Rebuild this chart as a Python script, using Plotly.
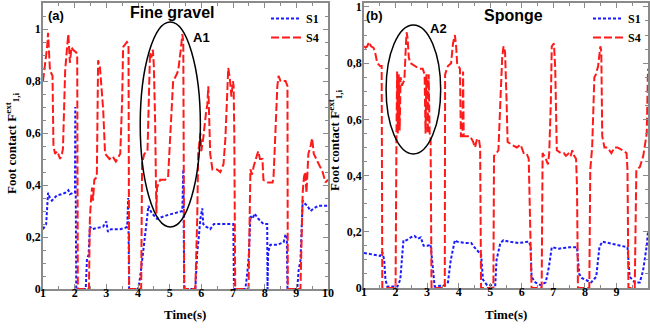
import plotly.graph_objects as go

# ---------------- data ----------------
# Panel (a): Fine gravel
t_a_s4 = [1.0, 1.07, 1.1, 1.13, 1.16, 1.19, 1.22, 1.3, 1.33, 1.38, 1.45, 1.54, 1.6, 1.63, 1.7, 1.76, 1.8, 1.85, 1.9, 1.95,
          2.05, 2.08, 2.1, 2.45, 2.48, 2.52, 2.55, 2.58, 2.62, 2.7, 2.74, 2.8, 2.9, 2.96, 3.1, 3.2, 3.3, 3.44, 3.5, 3.53,
          3.6, 3.65, 3.7, 3.72, 4.1, 4.13, 4.16, 4.2, 4.3, 4.35, 4.38, 4.42, 4.47, 4.5, 4.54, 4.58, 4.6, 4.7, 4.86, 4.95,
          5.02, 5.08, 5.11, 5.2, 5.27, 5.35, 5.4, 5.43, 5.46, 5.81, 5.87, 5.9, 5.97, 6.0, 6.06, 6.15, 6.19, 6.22, 6.28, 6.35,
          6.5, 6.6, 6.7, 6.76, 6.85, 6.9, 6.95, 7.0, 7.02, 7.04, 7.07, 7.49, 7.55, 7.6, 7.65, 7.77, 7.8, 7.85, 7.93, 7.96,
          8.1, 8.25, 8.28, 8.4, 8.44, 8.5, 8.56, 8.66, 8.72, 8.73, 9.13, 9.2, 9.24, 9.28, 9.32, 9.38, 9.45, 9.5, 9.55, 9.67,
          9.83, 9.92, 10.0]
f_a_s4 = [0.80, 0.87, 0.91, 0.93, 0.985, 0.90, 0.84, 0.82, 0.55, 0.52, 0.53, 0.50, 0.52, 0.54, 0.84, 0.93, 0.98, 0.87, 0.93, 0.92,
          0.91, 0.90, 0.0, 0.0, 0.27, 0.35, 0.39, 0.34, 0.42, 0.43, 0.88, 0.85, 0.69, 0.52, 0.50, 0.51, 0.49, 0.52, 0.73, 0.93,
          0.94, 0.95, 0.94, 0.0, 0.0, 0.50, 0.50, 0.52, 0.53, 0.85, 0.91, 0.89, 0.92, 0.86, 0.65, 0.29, 0.39, 0.42, 0.42, 0.43,
          0.58, 0.71, 0.80, 0.82, 0.84, 0.92, 0.98, 0.95, 0.0, 0.0, 0.27, 0.52, 0.60, 0.53, 0.58, 0.68, 0.71, 0.78, 0.52, 0.46,
          0.46, 0.45, 0.48, 0.58, 0.85, 0.81, 0.74, 0.80, 0.78, 0.60, 0.0, 0.0, 0.46, 0.44, 0.47, 0.52, 0.53, 0.50, 0.50, 0.42,
          0.41, 0.41, 0.43, 0.78, 0.82, 0.80, 0.80, 0.80, 0.78, 0.0, 0.0, 0.37, 0.43, 0.45, 0.37, 0.52, 0.55, 0.58, 0.52, 0.49,
          0.45, 0.41, 0.42]
t_a_s1 = [1.0, 1.1, 1.16, 1.22, 1.28, 1.44, 1.6, 1.7, 1.8, 1.85, 1.96, 2.01, 2.02, 2.05, 2.35, 2.39, 2.44, 2.48, 2.55, 2.7,
          2.9, 3.0, 3.05, 3.15, 3.28, 3.44, 3.6, 3.66, 3.69, 3.72, 4.0, 4.05, 4.16, 4.22, 4.33, 4.4, 4.45, 4.6, 4.8, 4.95,
          5.11, 5.3, 5.4, 5.43, 5.46, 5.81, 5.87, 5.92, 5.97, 6.03, 6.06, 6.15, 6.28, 6.4, 6.6, 6.8, 7.01, 7.03, 7.39, 7.45,
          7.5, 7.55, 7.62, 7.68, 7.8, 7.96, 8.08, 8.09, 8.11, 8.15, 8.18, 8.4, 8.6, 8.66, 8.7, 8.72, 9.03, 9.07, 9.13, 9.2,
          9.25, 9.35, 9.45, 9.55, 9.7, 9.86, 10.0]
f_a_s1 = [0.23, 0.25, 0.37, 0.35, 0.34, 0.36, 0.365, 0.37, 0.38, 0.365, 0.37, 0.37, 0.70, 0.0, 0.0, 0.12, 0.13, 0.24, 0.23, 0.235,
          0.24, 0.26, 0.22, 0.23, 0.23, 0.23, 0.235, 0.24, 0.35, 0.0, 0.0, 0.03, 0.14, 0.20, 0.32, 0.30, 0.29, 0.27, 0.28, 0.285,
          0.29, 0.295, 0.30, 0.46, 0.0, 0.0, 0.14, 0.20, 0.27, 0.31, 0.25, 0.24, 0.23, 0.25, 0.25, 0.25, 0.25, 0.0, 0.0, 0.06,
          0.13, 0.28, 0.27, 0.29, 0.27, 0.25, 0.25, 0.0, 0.14, 0.16, 0.17, 0.17, 0.18, 0.21, 0.20, 0.0, 0.0, 0.07, 0.11, 0.34,
          0.33, 0.32, 0.30, 0.31, 0.32, 0.32, 0.32]

# Panel (b): Sponge
t_b_s4 = [1.0, 1.05, 1.1, 1.16, 1.22, 1.3, 1.35, 1.42, 1.51, 1.56, 1.58, 2.0, 2.03, 2.05, 2.07, 2.1, 2.13, 2.16, 2.2, 2.28,
          2.33, 2.35, 2.38, 2.42, 2.47, 2.6, 2.75, 2.86, 2.92, 2.95, 2.98, 3.02, 3.05, 3.08, 3.11, 3.14, 3.56, 3.57, 3.66, 3.76,
          3.82, 3.88, 3.92, 3.95, 4.04, 4.07, 4.12, 4.14, 4.16, 4.2, 4.36, 4.46, 4.52, 4.58, 4.64, 4.68, 4.71, 5.1, 5.12, 5.2,
          5.26, 5.32, 5.38, 5.42, 5.47, 5.52, 5.55, 5.68, 5.84, 5.96, 6.06, 6.15, 6.22, 6.31, 6.63, 6.66, 6.76, 6.83, 6.87, 6.92,
          6.95, 7.02, 7.06, 7.11, 7.24, 7.33, 7.4, 7.5, 7.55, 7.6, 7.66, 7.72, 7.75, 7.77, 7.78, 8.14, 8.17, 8.23, 8.3, 8.35,
          8.42, 8.49, 8.52, 8.55, 8.62, 8.71, 8.84, 8.94, 9.03, 9.19, 9.32, 9.35, 9.38, 9.58, 9.63, 9.74, 9.85, 9.96, 10.0]
f_b_s4 = [0.86, 0.855, 0.86, 0.875, 0.86, 0.855, 0.84, 0.80, 0.79, 0.79, 0.0, 0.0, 0.56, 0.77, 0.55, 0.76, 0.56, 0.75, 0.72, 0.74,
          0.87, 0.91, 0.89, 0.82, 0.80, 0.79, 0.78, 0.78, 0.76, 0.55, 0.76, 0.55, 0.76, 0.55, 0.54, 0.0, 0.0, 0.76, 0.79, 0.80,
          0.87, 0.90, 0.86, 0.80, 0.78, 0.54, 0.54, 0.77, 0.54, 0.54, 0.54, 0.52, 0.50, 0.53, 0.53, 0.50, 0.0, 0.0, 0.47, 0.48,
          0.49, 0.66, 0.82, 0.86, 0.84, 0.66, 0.52, 0.51, 0.50, 0.51, 0.48, 0.48, 0.46, 0.0, 0.0, 0.48, 0.46, 0.44, 0.48, 0.66,
          0.86, 0.87, 0.78, 0.49, 0.48, 0.48, 0.47, 0.48, 0.47, 0.49, 0.47, 0.46, 0.36, 0.12, 0.0, 0.0, 0.42, 0.50, 0.75, 0.76,
          0.79, 0.86, 0.84, 0.54, 0.50, 0.50, 0.48, 0.50, 0.50, 0.49, 0.48, 0.42, 0.0, 0.0, 0.42, 0.43, 0.47, 0.55, 0.78]
t_b_s1 = [1.0, 1.32, 1.51, 1.58, 1.64, 1.68, 1.74, 2.06, 2.15, 2.25, 2.35, 2.48, 2.6, 2.7, 2.8, 2.89, 3.02, 3.11, 3.17, 3.24,
          3.56, 3.66, 3.75, 3.88, 3.95, 4.2, 4.4, 4.46, 4.62, 4.71, 4.77, 4.84, 4.9, 5.0, 5.16, 5.2, 5.32, 5.42, 5.58, 5.9,
          6.22, 6.28, 6.31, 6.43, 6.6, 6.76, 6.86, 6.95, 7.18, 7.5, 7.75, 7.82, 7.91, 8.0, 8.2, 8.36, 8.46, 8.55, 8.78, 9.0,
          9.19, 9.35, 9.42, 9.58, 9.74, 9.84, 9.96, 10.0]
f_b_s1 = [0.125, 0.117, 0.114, 0.128, 0.10, 0.03, 0.005, 0.005, 0.03, 0.17, 0.17, 0.18, 0.185, 0.175, 0.18, 0.15, 0.15, 0.155, 0.09, 0.005,
          0.01, 0.02, 0.10, 0.17, 0.165, 0.16, 0.16, 0.15, 0.13, 0.12, 0.03, 0.02, 0.01, 0.01, 0.01, 0.10, 0.16, 0.17, 0.165, 0.16,
          0.165, 0.15, 0.04, 0.02, 0.01, 0.02, 0.075, 0.145, 0.14, 0.145, 0.145, 0.05, 0.035, 0.03, 0.02, 0.04, 0.145, 0.165, 0.16, 0.155,
          0.15, 0.145, 0.04, 0.02, 0.02, 0.06, 0.15, 0.20]

y_tickvals = [0, 0.2, 0.4, 0.6, 0.8, 1.0]
y_ticktext = ["0", "0,2", "0,4", "0,6", "0,8", "1"]
x_tickvals = [1, 2, 3, 4, 5, 6, 7, 8, 9, 10]
x_ticktext = ["1", "2", "3", "4", "5", "6", "7", "8", "9", "10"]
series_names = ["S1", "S4"]
panel_titles = ["Fine gravel", "Sponge"]

# ---------------- figure ----------------
BLUE = "#1a1aff"
RED = "#ff1a1a"
SERIF = "Liberation Serif"
SANS = "Liberation Sans"

fig = go.Figure()

fig.add_trace(go.Scatter(x=t_a_s1, y=f_a_s1, mode="lines", name=series_names[0],
                         line=dict(color=BLUE, width=2, dash="3px,2px"),
                         xaxis="x", yaxis="y", legend="legend"))
fig.add_trace(go.Scatter(x=t_a_s4, y=f_a_s4, mode="lines", name=series_names[1],
                         line=dict(color=RED, width=2, dash="8px,3px"),
                         xaxis="x", yaxis="y", legend="legend"))
fig.add_trace(go.Scatter(x=t_b_s1, y=f_b_s1, mode="lines", name=series_names[0],
                         line=dict(color=BLUE, width=2, dash="3px,2px"),
                         xaxis="x2", yaxis="y2", legend="legend2"))
fig.add_trace(go.Scatter(x=t_b_s4, y=f_b_s4, mode="lines", name=series_names[1],
                         line=dict(color=RED, width=2, dash="8px,3px"),
                         xaxis="x2", yaxis="y2", legend="legend2"))

tickfont = dict(family=SERIF, size=12, color="black", weight="bold")
common_x = dict(range=[1, 10], tickvals=x_tickvals, ticktext=x_ticktext, showline=True, mirror="ticks",
                linecolor="#8a8a8a", linewidth=1.5, ticks="inside", ticklen=5, tickcolor="#8a8a8a",
                showgrid=False, zeroline=False, tickfont=tickfont, ticklabelstandoff=-8, automargin=False,
                minor=dict(dtick=0.5, ticks="inside", ticklen=3, tickcolor="#8a8a8a"))
common_y = dict(tickvals=y_tickvals, ticktext=y_ticktext, showline=True, mirror="ticks",
                linecolor="#8a8a8a", linewidth=1.5, ticks="inside", ticklen=5, tickcolor="#8a8a8a",
                showgrid=False, zeroline=False, tickfont=tickfont, ticklabelstandoff=-2, automargin=False,
                minor=dict(dtick=0.05, ticks="inside", ticklen=3, tickcolor="#8a8a8a"))

fig.update_layout(
    width=650, height=329,
    margin=dict(l=0, r=0, t=0, b=0, autoexpand=False),
    paper_bgcolor="white", plot_bgcolor="white",
    xaxis=dict(domain=[43 / 650, 328 / 650], anchor="y", **common_x),
    yaxis=dict(domain=[1 - 289 / 329, 1 - 3 / 329], anchor="x", range=[0, 1.1], **common_y),
    xaxis2=dict(domain=[364 / 650, 648 / 650], anchor="y2", **common_x),
    yaxis2=dict(domain=[1 - 288 / 329, 1 - 3 / 329], anchor="x2", range=[0, 1.014], **common_y),
    legend=dict(x=266 / 650, y=1 - 4 / 329, xanchor="left", yanchor="top", bgcolor="rgba(0,0,0,0)",
                font=dict(family=SERIF, size=12, color="black", weight="bold"), tracegroupgap=0),
    legend2=dict(x=588 / 650, y=1 - 4 / 329, xanchor="left", yanchor="top", bgcolor="rgba(0,0,0,0)",
                 font=dict(family=SERIF, size=12, color="black", weight="bold"), tracegroupgap=0),
    showlegend=True,
)

# Ellipses marking regions A1 and A2
fig.add_shape(type="circle", xref="x", yref="y", x0=4.07, x1=5.97, y0=0.238, y1=1.027,
              line=dict(color="black", width=1.5))
fig.add_shape(type="circle", xref="x2", yref="y2", x0=1.70, x1=3.43, y0=0.477, y1=0.936,
              line=dict(color="black", width=1.5))

bold_sans = lambda s: dict(family=SANS, size=s, color="black", weight="bold")
ann = [
    dict(text="(a)", x=56 / 650, y=1 - 15 / 329, font=bold_sans(13)),
    dict(text=panel_titles[0], x=172 / 650, y=1 - 13 / 329, font=bold_sans(16)),
    dict(text="A1", x=201 / 650, y=1 - 38 / 329, font=bold_sans(13)),
    dict(text="(b)", x=375 / 650, y=1 - 15 / 329, font=bold_sans(13)),
    dict(text=panel_titles[1], x=513 / 650, y=1 - 15 / 329, font=bold_sans(16)),
    dict(text="A2", x=438 / 650, y=1 - 28 / 329, font=bold_sans(13)),
    dict(text="Time(s)", x=185 / 650, y=1 - 314 / 329, font=dict(family=SERIF, size=13, color="black", weight="bold")),
    dict(text="Time(s)", x=506 / 650, y=1 - 314 / 329, font=dict(family=SERIF, size=13, color="black", weight="bold")),
    dict(text="Foot contact F<sup>ext</sup><sub>1,i</sub>", x=12 / 650, y=1 - 143 / 329, textangle=-90,
         font=dict(family=SERIF, size=13, color="black", weight="bold")),
    dict(text="Foot contact F<sup>ext</sup><sub>1,i</sub>", x=335 / 650, y=1 - 140 / 329, textangle=-90,
         font=dict(family=SERIF, size=13, color="black", weight="bold")),
]
for a in ann:
    fig.add_annotation(xref="paper", yref="paper", showarrow=False, xanchor="center", yanchor="middle", **a)

fig.write_html("out.html", config={"displayModeBar": False},
               post_script="document.body.style.margin='0';document.body.style.padding='0';")
